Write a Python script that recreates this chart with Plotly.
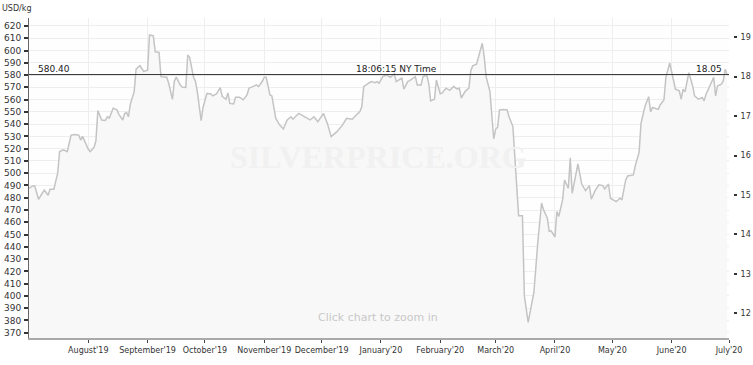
import plotly.graph_objects as go

# ---- data (USD per kg) ----
dates = [
    "2019-07-01","2019-07-03","2019-07-04","2019-07-06","2019-07-09","2019-07-11","2019-07-12","2019-07-14",
    "2019-07-16","2019-07-17","2019-07-19","2019-07-21","2019-07-23","2019-07-25","2019-07-27","2019-07-28",
    "2019-07-29","2019-07-30","2019-08-01","2019-08-02","2019-08-04","2019-08-05","2019-08-06","2019-08-08",
    "2019-08-10","2019-08-11","2019-08-12","2019-08-14","2019-08-16","2019-08-17","2019-08-19","2019-08-20",
    "2019-08-21","2019-08-22","2019-08-23","2019-08-25","2019-08-26","2019-08-28","2019-08-30","2019-09-01",
    "2019-09-02","2019-09-04","2019-09-05","2019-09-07","2019-09-08","2019-09-11","2019-09-12","2019-09-14",
    "2019-09-15","2019-09-16","2019-09-18","2019-09-19","2019-09-21","2019-09-22","2019-09-23","2019-09-25",
    "2019-09-26","2019-09-27","2019-09-29","2019-09-30","2019-10-02","2019-10-04","2019-10-05","2019-10-07",
    "2019-10-09","2019-10-10","2019-10-12","2019-10-13","2019-10-14","2019-10-16","2019-10-17","2019-10-19",
    "2019-10-21","2019-10-23","2019-10-24","2019-10-26","2019-10-28","2019-10-29","2019-10-31","2019-11-01",
    "2019-11-02","2019-11-04","2019-11-05","2019-11-07","2019-11-09","2019-11-11","2019-11-13","2019-11-15",
    "2019-11-16","2019-11-19","2019-11-22","2019-11-25","2019-11-27","2019-11-29","2019-12-02","2019-12-04",
    "2019-12-06","2019-12-09","2019-12-12","2019-12-14","2019-12-17","2019-12-19","2019-12-21","2019-12-22",
    "2019-12-23","2019-12-25","2019-12-27","2019-12-29","2019-12-30","2019-12-31","2020-01-02","2020-01-04",
    "2020-01-06","2020-01-08","2020-01-09","2020-01-11","2020-01-12","2020-01-13","2020-01-15","2020-01-16",
    "2020-01-18","2020-01-19","2020-01-20","2020-01-22","2020-01-23","2020-01-25","2020-01-26","2020-01-27",
    "2020-01-29","2020-01-30","2020-02-01","2020-02-02","2020-02-04","2020-02-06","2020-02-08","2020-02-10",
    "2020-02-11","2020-02-12","2020-02-14","2020-02-16","2020-02-17","2020-02-18","2020-02-20","2020-02-21",
    "2020-02-23","2020-02-24","2020-02-25","2020-02-27","2020-02-29","2020-03-01","2020-03-02","2020-03-03",
    "2020-03-05","2020-03-07","2020-03-08","2020-03-10","2020-03-11","2020-03-13","2020-03-15","2020-03-16",
    "2020-03-18","2020-03-20","2020-03-21","2020-03-23","2020-03-25","2020-03-26","2020-03-28","2020-03-29",
    "2020-03-30","2020-04-01","2020-04-02","2020-04-03","2020-04-05","2020-04-06","2020-04-08","2020-04-09",
    "2020-04-10","2020-04-13","2020-04-15","2020-04-17","2020-04-19","2020-04-20","2020-04-22","2020-04-24",
    "2020-04-26","2020-04-27","2020-04-29","2020-04-30","2020-05-02","2020-05-03","2020-05-05","2020-05-06",
    "2020-05-08","2020-05-09","2020-05-12","2020-05-13","2020-05-15","2020-05-16","2020-05-18","2020-05-20",
    "2020-05-21","2020-05-22","2020-05-25","2020-05-26","2020-05-28","2020-05-29","2020-05-31","2020-06-01",
    "2020-06-03","2020-06-05","2020-06-06","2020-06-07","2020-06-08","2020-06-10","2020-06-12","2020-06-13",
    "2020-06-15","2020-06-17","2020-06-18","2020-06-19","2020-06-23","2020-06-24","2020-06-25","2020-06-27",
    "2020-06-28","2020-06-29","2020-06-30",
]
prices = [
    487.7,489.6,489.6,478.8,486.3,482.0,487.0,487.0,
    500.0,517.6,519.0,517.6,531.0,531.5,531.0,527.0,
    530.0,526.0,519.5,517.6,521.0,526.5,551.0,543.4,
    543.0,546.0,545.0,553.0,551.6,548.0,543.4,548.7,
    549.5,546.0,556.4,566.5,584.9,587.6,583.0,584.0,
    612.7,612.0,599.0,598.5,578.7,578.3,573.5,560.2,
    575.0,578.3,572.0,570.3,570.0,596.4,594.5,578.3,
    575.0,566.5,542.8,553.6,565.0,564.7,563.0,564.7,
    569.8,562.6,560.3,565.5,556.9,556.4,562.0,562.0,
    559.8,563.8,569.3,570.6,572.0,570.6,574.9,578.3,
    578.3,563.8,563.0,544.8,539.4,536.1,543.4,546.0,
    544.0,548.7,546.0,543.4,546.0,542.0,548.7,540.6,
    529.8,533.9,539.4,544.8,544.0,547.5,550.2,554.2,
    570.6,572.8,574.7,573.8,574.7,573.3,578.7,580.0,
    578.2,581.0,574.7,576.6,577.4,568.5,574.7,575.5,
    577.4,578.7,571.9,571.9,578.7,580.0,573.3,559.0,
    560.3,576.0,564.8,565.3,569.3,567.5,570.6,568.5,
    569.3,561.3,566.6,569.3,583.5,587.6,588.9,595.0,
    605.9,595.0,578.7,566.6,527.9,536.0,537.4,551.5,
    552.0,551.5,546.0,538.0,512.0,465.3,465.3,400.1,
    378.4,394.7,403.0,443.1,475.7,470.3,463.5,452.6,
    453.0,448.0,468.8,464.8,478.2,494.5,487.7,512.5,
    483.6,507.5,491.2,485.8,489.9,478.8,485.8,490.5,
    489.9,487.2,491.2,479.6,478.2,476.9,479.6,478.2,
    494.5,497.8,498.6,506.1,517.0,540.7,554.2,562.4,
    550.0,553.6,552.0,555.6,559.8,578.1,589.8,582.0,
    568.5,567.2,560.3,568.5,566.3,582.0,571.1,563.0,
    560.3,561.7,559.0,564.4,578.1,563.0,571.1,572.5,
    575.2,584.7,580.4,
]
month_ticks = ["2019-08-01","2019-09-01","2019-10-01","2019-11-01","2019-12-01","2020-01-01",
               "2020-02-01","2020-03-01","2020-04-01","2020-05-01","2020-06-01","2020-07-01"]
month_labels = ["August'19","September'19","October'19","November'19","December'19","January'20",
                "February'20","March'20","April'20","May'20","June'20","July'20"]
left_ticks = list(range(370, 630, 10))
right_ticks = [12, 13, 14, 15, 16, 17, 18, 19]
last_price_kg = 580.40
last_price_oz = 18.05
time_label = "18:06:15 NY Time"
OZ_PER_KG = 32.1507
y_range = [365.7, 626.5]
x_range = ["2019-07-01", "2020-07-01"]

FONT = "DejaVu Sans"

fig = go.Figure()
fig.add_trace(go.Scatter(
    x=dates, y=prices, mode="lines",
    line=dict(color="#c4c4c4", width=1.5),
    fill="tozeroy", fillcolor="#f8f8f8",
    hoverinfo="skip", showlegend=False,
))
# invisible trace on the secondary axis to activate it
fig.add_trace(go.Scatter(
    x=[dates[0]], y=[prices[0] / OZ_PER_KG], yaxis="y2", mode="lines",
    line=dict(width=0), hoverinfo="skip", showlegend=False,
))

fig.update_layout(
    width=753, height=365,
    margin=dict(l=29, r=20, t=18, b=27, autoexpand=False),
    paper_bgcolor="white", plot_bgcolor="#fefefe",
    xaxis=dict(
        domain=[0, 700 / 704], range=x_range, type="date",
        tickmode="array", tickvals=month_ticks, ticktext=month_labels,
        tickangle=0, automargin=False,
        ticks="outside", ticklen=3, tickcolor="#444", tickwidth=1,
        showline=True, linecolor="#aaaaaa", linewidth=2,
        showgrid=True, gridcolor="#eeeeee", gridwidth=1,
        tickfont=dict(family=FONT, size=8, color="#333"),
        zeroline=False, fixedrange=True,
    ),
    yaxis=dict(
        range=y_range, tickmode="array", tickvals=left_ticks, automargin=False,
        ticks="outside", ticklen=4, tickcolor="#333", tickwidth=1.5,
        showline=True, linecolor="#666666", linewidth=1,
        showgrid=True, gridcolor="#eeeeee", gridwidth=1,
        tickfont=dict(family=FONT, size=9, color="#333"),
        zeroline=False, ticklabelstandoff=1,
    ),
    yaxis2=dict(
        range=[y_range[0] / OZ_PER_KG, y_range[1] / OZ_PER_KG],
        overlaying="y", side="right", anchor="free", position=1, automargin=False,
        tickmode="array", tickvals=right_ticks,
        ticks="outside", ticklen=3, tickcolor="#333", tickwidth=1.5,
        showline=False, showgrid=False, zeroline=False,
        tickfont=dict(family=FONT, size=8, color="#333"),
        ticklabelstandoff=2,
    ),
)

fig.add_shape(type="line", xref="x domain", yref="y", x0=0, x1=1,
              y0=last_price_kg, y1=last_price_kg, line=dict(color="#333333", width=1))

ann_font = dict(family=FONT, size=9, color="#222")
fig.add_annotation(xref="paper", yref="y", x=7 / 704, y=last_price_kg, text=f"{last_price_kg:.2f}",
                   showarrow=False, xanchor="left", yanchor="bottom", font=ann_font, yshift=-1)
fig.add_annotation(xref="paper", yref="y", x=325 / 704, y=last_price_kg, text=time_label,
                   showarrow=False, xanchor="left", yanchor="bottom", font=ann_font, yshift=-1)
fig.add_annotation(xref="paper", yref="y", x=695 / 704, y=last_price_kg, text=f"{last_price_oz:.2f}",
                   showarrow=False, xanchor="right", yanchor="bottom", font=ann_font, yshift=-1)

fig.add_annotation(xref="paper", yref="paper", x=-29 / 704, y=(338 - 8) / 320, text="USD/kg",
                   showarrow=False, xanchor="left", yanchor="middle",
                   font=dict(family=FONT, size=8, color="#333"))
fig.add_annotation(xref="paper", yref="paper", x=(378 - 29) / 704, y=(338 - 157) / 320,
                   text="<b>SILVERPRICE.ORG</b>", showarrow=False, xanchor="center", yanchor="middle",
                   font=dict(family="Liberation Serif", size=32, color="#f1f1f1"))
fig.add_annotation(xref="paper", yref="paper", x=(378 - 29) / 704, y=(338 - 317) / 320,
                   text="Click chart to zoom in", showarrow=False, xanchor="center", yanchor="middle",
                   font=dict(family=FONT, size=11, color="#c8c8c8"))

fig.write_html("out.html")
